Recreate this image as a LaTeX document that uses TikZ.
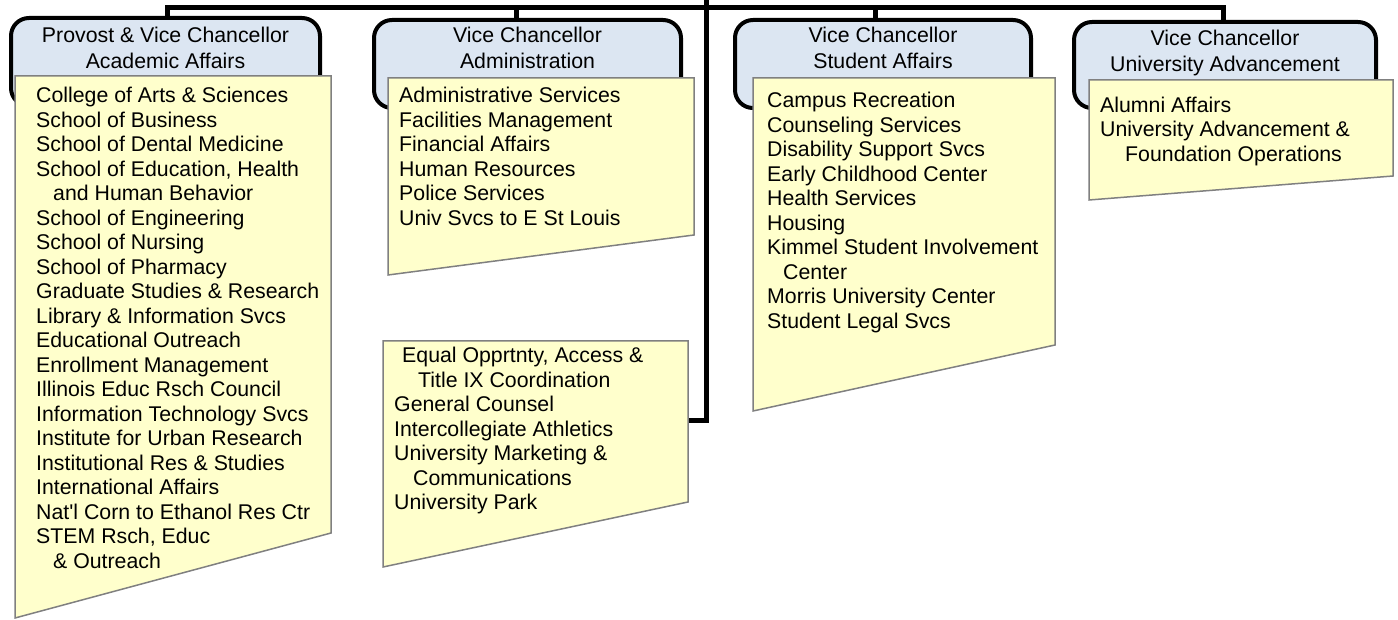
\documentclass[tikz,border=0pt]{standalone}
\usepackage{fontspec}
\setmainfont{Liberation Sans}
\usetikzlibrary{calc}
\definecolor{hdrfill}{HTML}{DCE6F2}
\definecolor{listfill}{HTML}{FFFFCC}
\definecolor{listedge}{HTML}{808080}
\newcommand\firstln{\rule{0pt}{16pt}}
\begin{document}
\begin{tikzpicture}[x=1pt,y=-1pt,
  conn/.style={line width=5pt},
  hdr/.style={draw=black, line width=4pt, fill=hdrfill, rounded corners=18pt, inner sep=0pt},
  lst/.style={draw=listedge, line width=1.5pt, fill=listfill},
  htxt/.style={anchor=north, align=center, inner sep=0pt, font=\fontsize{21.3}{26}\selectfont},
  ltxt/.style={anchor=north west, align=left, inner sep=0pt, font=\fontsize{21.3}{24.5}\selectfont}]
\useasboundingbox (0,0) rectangle (1398,620);

% header boxes
\node[hdr, minimum width=309pt, minimum height=88pt] (h1) at (165.5,62) {};
\node[hdr, minimum width=307pt, minimum height=88pt] (h2) at (527.5,64) {};
\node[hdr, minimum width=296pt, minimum height=88pt] (h3) at (883,64) {};
\node[hdr, minimum width=302pt, minimum height=86pt] (h4) at (1225,65) {};

% connectors
\coordinate (root) at (706,0);
\coordinate (bus) at (706,7.5);
\coordinate (y3e) at (688,420);
\draw[conn] (root) -- (bus);
\draw[conn] (bus) -| ($(h1.north)+(1.5,0)$);
\draw[conn] (bus) -| ($(h2.north)+(-11.5,0)$);
\draw[conn] (bus) -| ($(h3.north)+(-8,0)$);
\draw[conn] (bus) -| ($(h4.north)+(-2,0)$);
\draw[conn] (root) |- (y3e);

% list boxes
\draw[lst] (15,76) -- (331,76) -- (331,533) -- (15,618) -- cycle;
\draw[lst] (388,78) -- (694,78) -- (694,235) -- (388,275) -- cycle;
\draw[lst] (383,341) -- (688,341) -- (688,502) -- (383,567) -- cycle;
\draw[lst] (753,78) -- (1055,78) -- (1055,345) -- (753,411) -- cycle;
\draw[lst] (1089,80) -- (1393,80) -- (1393,176) -- (1089,200) -- cycle;

% header texts
\node[htxt] (h1t) at ($(h1.north)+(0,10.5)$) {\firstln Provost \& Vice Chancellor\\Academic Affairs};
\node[htxt] (h2t) at ($(h2.north)+(0,8.5)$) {\firstln Vice Chancellor\\Administration};
\node[htxt] (h3t) at ($(h3.north)+(0,8.5)$) {\firstln Vice Chancellor\\Student Affairs};
\node[htxt] (h4t) at ($(h4.north)+(0,9.5)$) {\firstln Vice Chancellor\\University Advancement};

% list texts
\node[ltxt] (l1) at (36,86.5) {\firstln College of Arts \& Sciences\\
School of Business\\
School of Dental Medicine\\
School of Education, Health\\
\hspace*{17pt}and Human Behavior\\
School of Engineering\\
School of Nursing\\
School of Pharmacy\\
Graduate Studies \& Research\\
Library \& Information Svcs\\
Educational Outreach\\
Enrollment Management\\
Illinois Educ Rsch Council\\
Information Technology Svcs\\
Institute for Urban Research\\
Institutional Res \& Studies\\
International Affairs\\
Nat\textquotesingle l Corn to Ethanol Res Ctr\\
STEM Rsch, Educ\\
\hspace*{17pt}\& Outreach};

\node[ltxt] (l2) at (399,86.5) {\firstln Administrative Services\\
Facilities Management\\
Financial Affairs\\
Human Resources\\
Police Services\\
Univ Svcs to E St Louis};

\node[ltxt] (l3) at (394,346.5) {\firstln \hspace*{8pt}Equal Opprtnty, Access \&\\
\hspace*{24pt}Title IX Coordination\\
General Counsel\\
Intercollegiate Athletics\\
University Marketing \&\\
\hspace*{19pt}Communications\\
University Park};

\node[ltxt] (l4) at (767,91.5) {\firstln Campus Recreation\\
Counseling Services\\
Disability Support Svcs\\
Early Childhood Center\\
Health Services\\
Housing\\
Kimmel Student Involvement\\
\hspace*{16pt}Center\\
Morris University Center\\
Student Legal Svcs};

\node[ltxt] (l5) at (1100,96) {\firstln Alumni Affairs\\
University Advancement \&\\
\hspace*{25pt}Foundation Operations};
\end{tikzpicture}
\end{document}
